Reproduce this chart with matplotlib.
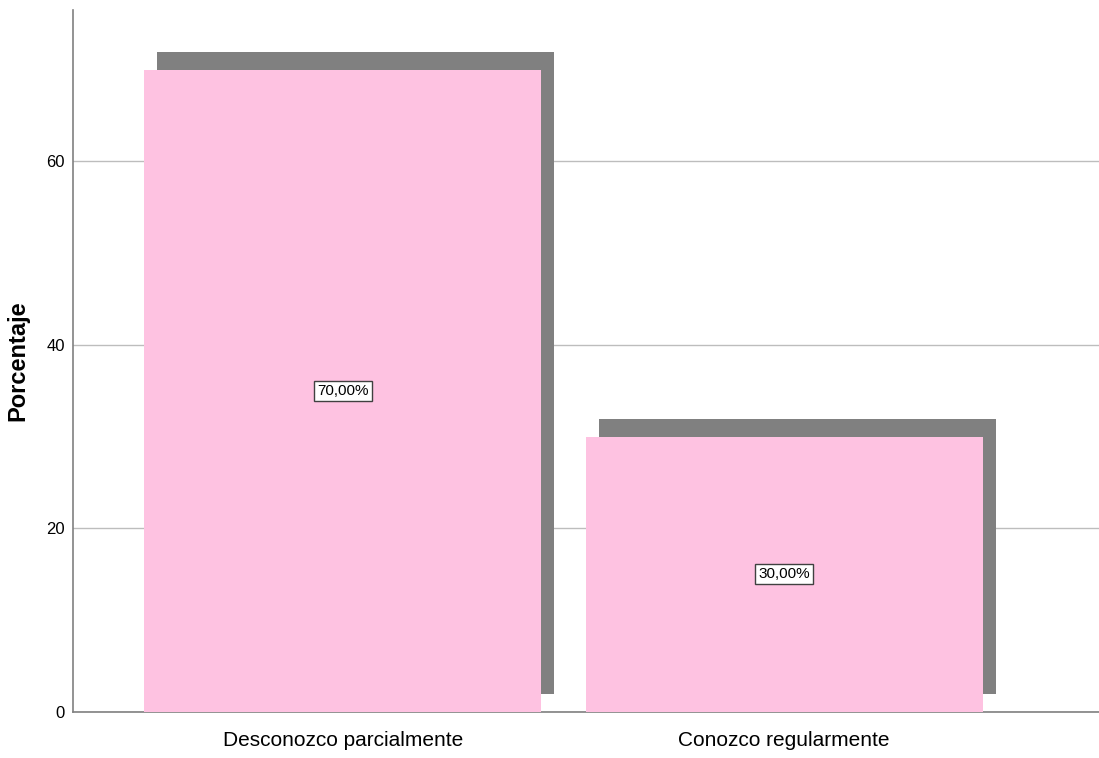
import matplotlib
matplotlib.use("Agg")
import matplotlib.pyplot as plt
import matplotlib.transforms as mtransforms

# Data
categories = ["Desconozco parcialmente", "Conozco regularmente"]
percentages = [70.0, 30.0]
value_labels = ["70,00%", "30,00%"]
y_ticks = [0, 20, 40, 60]

plt.rcParams["font.family"] = ["Liberation Sans", "DejaVu Sans"]

fig = plt.figure(figsize=(10.99, 7.58), dpi=100)
ax = fig.add_axes([73 / 1099, 46 / 758, 1 - 73 / 1099, 702 / 758])

x = list(range(len(categories)))

# Drop shadow: same bars shifted right/up by a few pixels
shadow_tr = mtransforms.offset_copy(ax.transData, fig=fig, x=13, y=18, units="dots")
ax.bar(x, percentages, width=0.9, color="#808080", transform=shadow_tr, zorder=2)
ax.bar(x, percentages, width=0.9, color="#FEC2E1", zorder=3)

for xi, val, lab in zip(x, percentages, value_labels):
    ax.text(xi, val / 2, lab, ha="center", va="center", fontsize=11, zorder=4,
            bbox=dict(boxstyle="square,pad=0.2", fc="white", ec="#404040", lw=1))

ax.set_xlim(-0.612, 1.714)
ax.set_ylim(0, 76.5)
ax.set_yticks(y_ticks)
ax.set_xticks(x)
ax.set_xticklabels(categories, fontsize=15)
ax.tick_params(axis="y", length=0, pad=6, labelsize=12)
ax.tick_params(axis="x", length=0, pad=14)
ax.yaxis.grid(True, color="#BDBDBD", lw=1)
ax.set_axisbelow(True)

for side in ["top", "right"]:
    ax.spines[side].set_visible(False)
for side in ["left", "bottom"]:
    ax.spines[side].set_color("#808080")
    ax.spines[side].set_linewidth(1.2)

ax.set_ylabel("Porcentaje", fontsize=17, fontweight="bold")
ax.yaxis.set_label_coords(-44 / 1026, 0.5)

fig.savefig("out.png", dpi=100)
